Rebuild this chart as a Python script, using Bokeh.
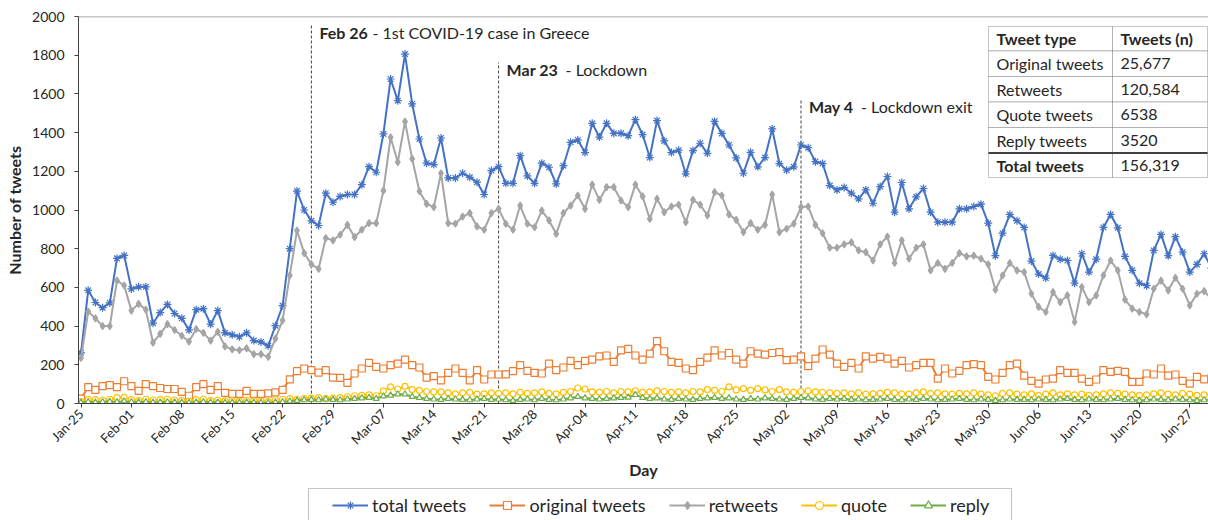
import math
import pandas as pd
from bokeh.plotting import figure
from bokeh.layouts import column
from bokeh.models import (Range1d, FixedTicker, Legend, LegendItem, Label,
                          BoxAnnotation, Span)
from bokeh.embed import file_html
from bokeh.resources import INLINE

# ---------------------------------------------------------------- data
start_date = "2020-01-25"
end_date = "2020-06-30"

total_tweets = [
    262, 585, 522, 495, 520, 750, 765, 592, 603, 603,
    415, 470, 512, 465, 440, 380, 485, 490, 410, 480,
    365, 355, 345, 365, 325, 318, 298, 402, 506, 800,
    1098, 1000, 944, 920, 1087, 1040, 1070, 1080, 1080, 1131,
    1224, 1195, 1393, 1677, 1565, 1806, 1548, 1367, 1242, 1235,
    1372, 1166, 1166, 1190, 1169, 1144, 1080, 1204, 1224, 1138,
    1138, 1281, 1176, 1138, 1242, 1221, 1135, 1229, 1350, 1362,
    1297, 1448, 1377, 1448, 1396, 1396, 1384, 1467, 1390, 1271,
    1462, 1357, 1297, 1309, 1187, 1307, 1345, 1293, 1458, 1396,
    1336, 1269, 1190, 1298, 1223, 1271, 1419, 1240, 1206, 1223,
    1336, 1322, 1250, 1240, 1126, 1104, 1116, 1087, 1058, 1104,
    1035, 1121, 1173, 989, 1142, 1006, 1068, 1111, 989, 937,
    937, 937, 1006, 1006, 1018, 1030, 932, 764, 880, 977,
    945, 910, 736, 669, 648, 765, 746, 739, 622, 774,
    679, 746, 910, 977, 908, 760, 688, 622, 609, 791,
    874, 764, 862, 782, 679, 719, 774, 700,
]

original_tweets = [
    25, 85, 70, 90, 95, 85, 115, 90, 65, 100,
    90, 80, 75, 75, 60, 40, 85, 100, 70, 90,
    55, 50, 50, 65, 50, 50, 52, 58, 70, 125,
    167, 181, 172, 160, 172, 134, 132, 107, 155, 181,
    210, 189, 181, 198, 206, 227, 198, 186, 134, 141,
    120, 158, 181, 158, 120, 172, 124, 150, 150, 151,
    167, 198, 169, 158, 155, 206, 172, 186, 220, 198,
    220, 227, 244, 248, 215, 275, 282, 248, 227, 258,
    322, 270, 215, 210, 181, 172, 215, 237, 275, 248,
    261, 227, 206, 270, 258, 253, 261, 265, 224, 227,
    244, 193, 232, 279, 253, 206, 189, 210, 181, 244,
    232, 241, 232, 206, 220, 186, 198, 210, 210, 129,
    181, 155, 169, 198, 203, 198, 138, 124, 158, 198,
    206, 144, 117, 103, 124, 129, 172, 158, 158, 129,
    112, 124, 172, 163, 169, 163, 112, 112, 155, 150,
    181, 144, 150, 117, 103, 138, 125, 130,
]

retweets = [
    235, 475, 440, 400, 400, 635, 610, 480, 515, 485,
    315, 360, 410, 380, 350, 320, 385, 365, 325, 370,
    295, 280, 275, 285, 255, 255, 241, 335, 430, 662,
    894, 777, 719, 696, 855, 843, 872, 923, 860, 898,
    932, 932, 1100, 1376, 1247, 1457, 1264, 1097, 1032, 1015,
    1190, 932, 929, 966, 984, 915, 898, 984, 1006, 929,
    898, 1023, 929, 911, 997, 946, 877, 984, 1023, 1075,
    1006, 1131, 1052, 1118, 1118, 1049, 1015, 1131, 1070, 954,
    1058, 989, 1018, 1027, 937, 1052, 1027, 972, 1092, 1075,
    977, 949, 886, 932, 898, 923, 1080, 886, 903, 929,
    1015, 1018, 923, 880, 805, 805, 822, 833, 791, 782,
    739, 822, 863, 726, 843, 748, 805, 822, 688, 726,
    696, 726, 777, 760, 764, 748, 719, 588, 662, 726,
    688, 679, 567, 499, 473, 576, 524, 559, 421, 602,
    524, 559, 662, 739, 688, 537, 490, 473, 461, 593,
    635, 585, 650, 593, 507, 567, 581, 540,
]

quote_tweets = [
    10, 20, 20, 18, 22, 30, 32, 20, 15, 22,
    18, 20, 22, 18, 15, 12, 20, 22, 15, 18,
    14, 15, 12, 16, 14, 12, 10, 18, 22, 25,
    22, 25, 28, 30, 25, 28, 30, 35, 40, 42,
    45, 40, 65, 86, 75, 89, 72, 68, 62, 60,
    60, 55, 50, 55, 58, 48, 50, 55, 52, 55,
    50, 58, 52, 55, 60, 52, 50, 58, 62, 80,
    75, 60, 58, 62, 55, 62, 60, 66, 58, 60,
    65, 62, 58, 60, 55, 62, 60, 72, 68, 62,
    86, 70, 77, 68, 77, 70, 62, 72, 60, 58,
    62, 65, 60, 58, 55, 52, 55, 50, 55, 48,
    50, 52, 58, 55, 50, 48, 55, 60, 52, 55,
    50, 48, 52, 50, 55, 48, 45, 40, 52, 55,
    48, 45, 50, 42, 48, 55, 45, 50, 45, 48,
    42, 45, 50, 55, 52, 48, 45, 42, 45, 50,
    55, 48, 45, 52, 48, 42, 45, 48,
]

reply_tweets = [
    5, 8, 6, 8, 10, 8, 12, 8, 6, 8,
    5, 6, 8, 6, 5, 4, 6, 8, 5, 6,
    4, 5, 4, 6, 5, 4, 3, 6, 8, 12,
    15, 18, 20, 18, 22, 20, 18, 22, 25, 28,
    30, 25, 38, 42, 48, 48, 35, 30, 25, 22,
    20, 25, 22, 20, 18, 22, 25, 20, 22, 18,
    15, 20, 22, 18, 25, 20, 18, 22, 28, 35,
    28, 25, 22, 25, 28, 30, 32, 45, 30, 25,
    28, 22, 20, 25, 22, 20, 25, 28, 30, 25,
    28, 22, 20, 25, 22, 28, 25, 22, 20, 25,
    30, 28, 22, 20, 25, 22, 25, 20, 22, 18,
    20, 22, 25, 20, 18, 22, 20, 25, 22, 18,
    20, 22, 25, 20, 18, 22, 20, 15, 18, 22,
    20, 20, 18, 22, 20, 18, 22, 25, 20, 18,
    22, 20, 18, 22, 25, 20, 18, 15, 18, 22,
    20, 18, 22, 20, 18, 15, 18, 20,
]

week_labels = [
    "Jan-25", "Feb-01", "Feb-08", "Feb-15", "Feb-22", "Feb-29", "Mar-07",
    "Mar-14", "Mar-21", "Mar-28", "Apr-04", "Apr-11", "Apr-18", "Apr-25",
    "May-02", "May-09", "May-16", "May-23", "May-30", "Jun-06", "Jun-13",
    "Jun-20", "Jun-27",
]

event_dates = ["2020-02-26", "2020-03-23", "2020-05-04"]
event_titles = ["Feb 26", "Mar 23", "May 4"]
event_texts = ["- 1st COVID-19 case in Greece", "- Lockdown", "- Lockdown exit"]

table_header = ["Tweet type", "Tweets (n)"]
table_types = ["Original tweets", "Retweets", "Quote tweets", "Reply tweets"]
table_counts = ["25,677", "120,584", "6538", "3520"]
table_total = ["Total tweets", "156,319"]

# ---------------------------------------------------------------- layout
FONT = "Lato"
TXT = "#262626"
W, H = 1208, 520
LEG_TOP = 487                      # legend strip starts here
FRAME_L, FRAME_T, FRAME_B = 78, 16, 403
FRAME_W = W - FRAME_L
FRAME_H = FRAME_B - FRAME_T
DAY_PX = 7.2
X0 = -(2.5 / DAY_PX)
X1 = X0 + FRAME_W / DAY_PX
Y0, Y1 = 0, 2000

dates = pd.date_range(start_date, end_date, freq="D")
days = list(range(len(dates)))
t0 = pd.Timestamp(start_date)
week_days = [7 * i for i in range(len(week_labels))]
event_days = [(pd.Timestamp(d) - t0).days for d in event_dates]


def dx(px):
    """canvas x pixel -> day coordinate"""
    return X0 + (px - FRAME_L) / FRAME_W * (X1 - X0)


def dy(py):
    """canvas y pixel -> tweet-count coordinate"""
    return Y0 + (FRAME_B - py) / FRAME_H * (Y1 - Y0)


p = figure(width=W, height=LEG_TOP, output_backend="svg", toolbar_location=None,
           x_range=Range1d(X0, X1), y_range=Range1d(Y0, Y1),
           min_border_left=FRAME_L, min_border_right=0, min_border_top=FRAME_T,
           min_border_bottom=LEG_TOP - FRAME_B)
p.outline_line_color = None
p.xgrid.visible = False
p.ygrid.visible = False
p.background_fill_color = "white"
p.border_fill_color = "white"

p.add_layout(Span(location=Y1, dimension="width", line_color="#8c8c8c", line_width=1.5))

# axes
p.yaxis.ticker = FixedTicker(ticks=list(range(0, 2001, 200)))
p.yaxis.axis_label = "Number of tweets"
p.yaxis.axis_label_text_font = FONT
p.yaxis.axis_label_text_font_style = "bold"
p.yaxis.axis_label_text_font_size = "16px"
p.yaxis.axis_label_text_color = TXT
p.yaxis.axis_label_standoff = 5
p.yaxis.major_label_text_font = FONT
p.yaxis.major_label_text_font_size = "14px"
p.yaxis.major_label_text_color = TXT
p.yaxis.major_label_standoff = 10
p.yaxis.major_tick_in = 0
p.yaxis.major_tick_out = 4
p.yaxis.minor_tick_out = 0
p.yaxis.minor_tick_in = 0
p.yaxis.axis_line_color = "#404040"
p.yaxis.major_tick_line_color = "#404040"

p.xaxis.ticker = FixedTicker(ticks=week_days)
p.xaxis.major_label_overrides = {d: lab for d, lab in zip(week_days, week_labels)}
p.xaxis.major_label_orientation = math.pi / 4
p.xaxis.major_label_text_font = FONT
p.xaxis.major_label_text_font_size = "13px"
p.xaxis.major_label_text_color = TXT
p.xaxis.major_label_standoff = 4
p.xaxis.major_tick_in = 0
p.xaxis.major_tick_out = 4
p.xaxis.minor_tick_out = 0
p.xaxis.minor_tick_in = 0
p.xaxis.axis_line_color = "#404040"
p.xaxis.major_tick_line_color = "#404040"
p.xaxis.axis_label = "Day"
p.xaxis.axis_label_text_font = FONT
p.xaxis.axis_label_text_font_style = "bold"
p.xaxis.axis_label_text_font_size = "16px"
p.xaxis.axis_label_text_color = TXT
p.xaxis.axis_label_standoff = 3

# event markers
p.segment(x0=event_days, y0=[0] * 3, x1=event_days,
          y1=[dy(23), dy(62), dy(98)], line_color="#404040",
          line_width=1, line_dash="3 2")
label_rows = [32, 69, 106]
rest_offsets = [61, 67, 60]
for d, title, text, row, off in zip(event_days, event_titles, event_texts,
                                    label_rows, rest_offsets):
    p.add_layout(Label(x=d, y=dy(row), x_offset=8, text=title,
                       text_font=FONT, text_font_style="bold",
                       text_font_size="16px", text_color=TXT,
                       text_baseline="middle"))
    p.add_layout(Label(x=d, y=dy(row), x_offset=off, text=text,
                       text_font=FONT, text_font_size="16px",
                       text_color=TXT, text_baseline="middle"))

# series
series = [
    ("total tweets", total_tweets, "#4472C4", "asterisk", 8, "#4472C4"),
    ("original tweets", original_tweets, "#ED7D31", "square", 7, "white"),
    ("retweets", retweets, "#A5A5A5", "diamond", 7, "#A5A5A5"),
    ("quote", quote_tweets, "#FFC000", "circle", 6, "white"),
    ("reply", reply_tweets, "#70AD47", "triangle", 6, "white"),
]
for name, vals, color, marker, size, fill in series:
    p.line(days, vals, line_color=color, line_width=2)
    p.scatter(days, vals, marker=marker, size=size, line_color=color,
              fill_color=fill, line_width=1.2)

# summary table (top right)
tab_l, tab_mid, tab_r = 988, 1112, 1207
row_edges = [26, 50.5, 76, 101.5, 127, 152.5, 177]
for i in range(len(row_edges) - 1):
    for left, right in ((tab_l, tab_mid), (tab_mid, tab_r)):
        p.add_layout(BoxAnnotation(left=dx(left), right=dx(right),
                                   top=dy(row_edges[i]), bottom=dy(row_edges[i + 1]),
                                   fill_color="white", fill_alpha=1.0,
                                   line_color="#404040", line_width=1))
p.add_layout(BoxAnnotation(left=dx(tab_l), right=dx(tab_r),
                           top=dy(151.5), bottom=dy(153.5),
                           fill_color="#404040", fill_alpha=1.0,
                           line_color=None))

rows_text = [table_header] + [[a, b] for a, b in zip(table_types, table_counts)] + [table_total]
for i, (a, b) in enumerate(rows_text):
    cy = (row_edges[i] + row_edges[i + 1]) / 2
    bold = i == 0 or i == len(rows_text) - 1
    p.add_layout(Label(x=dx(tab_l + 8), y=dy(cy), text=a, text_font=FONT,
                       text_font_size="16px", text_color=TXT,
                       text_font_style="bold" if bold else "normal",
                       text_baseline="middle"))
    p.add_layout(Label(x=dx(tab_mid + 8), y=dy(cy), text=b, text_font=FONT,
                       text_font_size="16px", text_color=TXT,
                       text_font_style="bold" if i == 0 else "normal",
                       text_baseline="middle"))

# ---------------------------------------------------------------- legend strip
# a thin companion plot whose frame is aligned with the main one; its
# renderers hold a single off-range point so only the legend glyphs show
LEG_H = H - LEG_TOP
lg = figure(width=W, height=LEG_H, output_backend="svg", toolbar_location=None,
            x_range=Range1d(0, 1), y_range=Range1d(0, 1),
            x_axis_type=None, y_axis_type=None,
            min_border_left=0, min_border_right=0, min_border_top=0,
            min_border_bottom=0)
lg.outline_line_color = None
lg.xgrid.visible = False
lg.ygrid.visible = False

# legend frame box (its lower edge runs past the bottom of the page)
box_l, box_r = 308, 1011
lg.add_layout(BoxAnnotation(left=(box_l - FRAME_L) / FRAME_W,
                            right=(box_r - FRAME_L) / FRAME_W,
                            top=1 - 1.0 / LEG_H, bottom=-1,
                            fill_color="white", fill_alpha=1.0,
                            line_color="#404040", line_width=1.2))

items = []
for name, vals, color, marker, size, fill in series:
    ln = lg.line([-5, -4], [-5, -5], line_color=color, line_width=2)
    sc = lg.scatter([-5], [-5], marker=marker, size=size - 1, line_color=color,
                    fill_color=fill, line_width=1.2)
    items.append(LegendItem(label=name, renderers=[ln, sc]))

legend = Legend(items=items, orientation="horizontal",
                location=(332 - FRAME_L, 4),
                border_line_color=None, background_fill_alpha=0,
                label_text_font=FONT, label_text_font_size="18px",
                label_text_color=TXT, glyph_width=36, glyph_height=20,
                label_standoff=4, spacing=23, padding=0, margin=0)
lg.add_layout(legend)

open("out.html", "w").write(file_html(column(p, lg, spacing=0), INLINE))
